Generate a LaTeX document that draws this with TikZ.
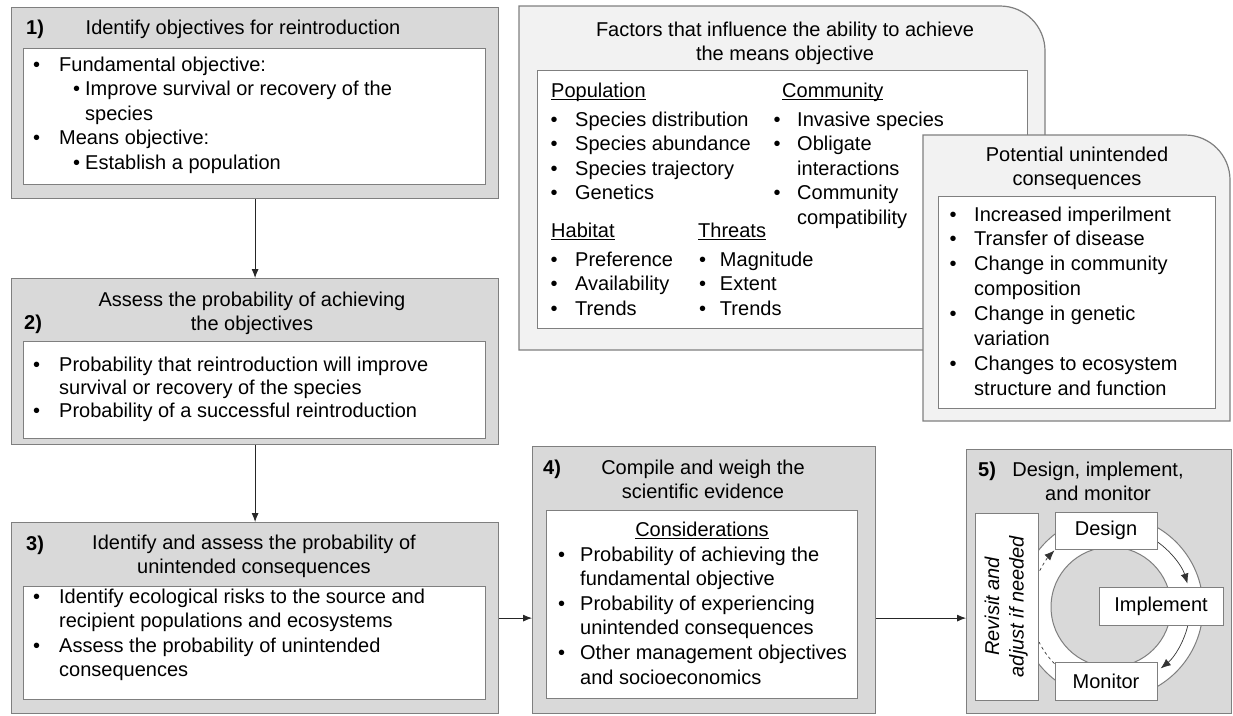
\documentclass[tikz,border=0pt]{standalone}
\usepackage{fontspec}
\setmainfont{Liberation Sans}
\usetikzlibrary{arrows.meta}
\usetikzlibrary{positioning}
\definecolor{stepgrey}{HTML}{D9D9D9}
\definecolor{factgrey}{HTML}{F2F2F2}
\definecolor{edgegrey}{HTML}{7F7F7F}
\newcommand{\itm}[1][26pt]{\makebox[#1][l]{\textbullet}}
\newcommand{\cnt}[1][26pt]{\hspace*{#1}}
\newcommand{\lst}[2][1]{\renewcommand{\arraystretch}{#1}\begin{tabular}[t]{@{}l@{}}#2\end{tabular}}
\newcommand{\ctr}[1]{\begin{tabular}[t]{@{}c@{}}#1\end{tabular}}
\newcommand{\hdline}[1]{\setbox0\hbox{#1}\rlap{\rule[-3pt]{\wd0}{1pt}}\box0}
\tikzset{
  stepbox/.style={draw=edgegrey, line width=1.2pt, fill=stepgrey, anchor=north west},
  innerbox/.style={draw=edgegrey, line width=1pt, fill=white, anchor=north west},
  factbox/.style={draw=edgegrey, line width=1.2pt, fill=factgrey},
  cycbox/.style={draw=edgegrey, line width=1pt, fill=white},
  arr/.style={-{Latex[length=9pt,width=7pt]}, line width=0.8pt, draw=black!85},
  cycarr/.style={-{Latex[length=10pt,width=8pt]}, line width=0.7pt, draw=black!80}
}

\begin{document}
\begin{tikzpicture}[x=1pt, y=-1pt, every node/.style={font=\fontsize{20}{24.6}\selectfont, inner sep=0pt}]
\useasboundingbox (0,0) rectangle (1233,715);

  % Step boxes on the left
  \node[stepbox, minimum width=487pt, minimum height=191pt] (box1) at (11,7) {};
  \node[innerbox, minimum width=462pt, minimum height=136pt] (in1) at (23,48) {};
  \node[anchor=base west, font=\fontsize{20}{24.6}\selectfont\bfseries] (num1) at (26,34) {1)};
  \node[anchor=base] (ttl1) at (243,34) {Identify objectives for reintroduction};
  \node[anchor=base west] (lst1) at (33,71) {\lst{\itm Fundamental objective:\\
    \hspace*{40pt}\makebox[12pt][l]{\textbullet}Improve survival or recovery of the\\
    \hspace*{52pt}species\\
    \itm Means objective:\\
    \hspace*{40pt}\makebox[12pt][l]{\textbullet}Establish a population}};

  \node[stepbox, minimum width=487pt, minimum height=166pt] (box2) at (11,278) {};
  \node[innerbox, minimum width=462pt, minimum height=97pt] (in2) at (23,341) {};
  \node[anchor=base west, font=\fontsize{20}{24.6}\selectfont\bfseries] (num2) at (24,329) {2)};
  \node[anchor=base] (ttl2) at (252,306) {\ctr{Assess the probability of achieving\\the objectives}};
  \node[anchor=base west] (lst2) at (33,371) {\lst[0.94]{\itm Probability that reintroduction will improve\\
    \cnt survival or recovery of the species\\
    \itm Probability of a successful reintroduction}};

  \node[stepbox, minimum width=487pt, minimum height=191pt] (box3) at (11,522) {};
  \node[innerbox, minimum width=462pt, minimum height=113pt] (in3) at (23,586) {};
  \node[anchor=base west, font=\fontsize{20}{24.6}\selectfont\bfseries] (num3) at (26,550) {3)};
  \node[anchor=base] (ttl3) at (254,549) {\ctr{Identify and assess the probability of\\unintended consequences}};
  \node[anchor=base west] (lst3) at (33,603) {\lst{\itm Identify ecological risks to the source and\\
    \cnt recipient populations and ecosystems\\
    \itm Assess the probability of unintended\\
    \cnt consequences}};

  % Evidence and design boxes
  \node[stepbox, minimum width=343pt, minimum height=267pt] (box4) at (532,446) {};
  \node[innerbox, minimum width=311pt, minimum height=188pt] (in4) at (546,510) {};
  \node[anchor=base west, font=\fontsize{20}{24.6}\selectfont\bfseries] (num4) at (543,474) {4)};
  \node[anchor=base] (ttl4) at (703,474) {\ctr{Compile and weigh the\\scientific evidence}};
  \node[anchor=base] (cons) at (702,536) {\hdline{Considerations}};
  \node[anchor=base west] (lst4) at (558,561) {\lst{\itm[22pt]Probability of achieving the\\
    \cnt[22pt]fundamental objective\\
    \itm[22pt]Probability of experiencing\\
    \cnt[22pt]unintended consequences\\
    \itm[22pt]Other management objectives\\
    \cnt[22pt]and socioeconomics}};

  \node[stepbox, minimum width=265pt, minimum height=264pt] (box5) at (966,449) {};
  \node[anchor=base west, font=\fontsize{20}{24.6}\selectfont\bfseries] (num5) at (978,476) {5)};
  \node[anchor=base] (ttl5) at (1098,476) {\ctr{Design, implement,\\and monitor}};

  % cycle
  \coordinate (cyc) at (1111,607);
  \draw[edgegrey, line width=1pt, fill=white] (cyc) circle[radius=92];
  \draw[edgegrey, line width=1pt, fill=stepgrey] (cyc) circle[radius=60];
  \draw[cycarr] ([shift={(-55:80)}]cyc) arc[start angle=-55, end angle=-17, radius=80];
  \draw[cycarr] ([shift={(13:79)}]cyc) arc[start angle=13, end angle=51, radius=79];
  \draw[cycarr, -, dashed] ([shift={(135:80)}]cyc) arc[start angle=135, end angle=154, radius=80];
  \draw[cycarr, dashed] ([shift={(-153:80)}]cyc) arc[start angle=-153, end angle=-135, radius=80];
  \node[cycbox, minimum width=102pt, minimum height=37pt] (design) at (1106,530.5) {Design};
  \node[cycbox, minimum width=124pt, minimum height=38pt] (implement) at (1161,606) {Implement};
  \node[cycbox, minimum width=102pt, minimum height=38pt] (monitor) at (1106,681) {Monitor};
  \node[cycbox, rotate=90, minimum width=187pt, minimum height=63pt,
    font=\fontsize{20}{24.6}\selectfont\itshape] (revisit) at (1006.5,606.5) {\ctr{Revisit and\\adjust if needed}};

  % Factors box
  \draw[factbox] (519,350) -- (519,6) -- (1000,6) arc[start angle=-90, end angle=0, radius=45] -- (1045,350) -- cycle;
  \node[innerbox, minimum width=490pt, minimum height=258pt] (infact) at (537,70) {};
  \node[anchor=base] (ttlf) at (785,36) {\ctr{Factors that influence the ability to achieve\\the means objective}};
  \node[anchor=base west] (hpop) at (551,97) {\hdline{Population}};
  \node[anchor=base west] (hcom) at (782,97) {\hdline{Community}};
  \node[anchor=base west] (lpop) at (550.5,126) {\lst{\itm[24.5pt]Species distribution\\
    \itm[24.5pt]Species abundance\\
    \itm[24.5pt]Species trajectory\\
    \itm[24.5pt]Genetics}};
  \node[anchor=base west] (lcom) at (773.5,126) {\lst{\itm[23.5pt]Invasive species\\
    \itm[23.5pt]Obligate\\
    \cnt[23.5pt]interactions\\
    \itm[23.5pt]Community\\
    \cnt[23.5pt]compatibility}};
  \node[anchor=base west] (hhab) at (551,237) {\hdline{Habitat}};
  \node[anchor=base west] (hthr) at (698,237) {\hdline{Threats}};
  \node[anchor=base west] (lhab) at (550.5,266) {\lst{\itm[24.5pt]Preference\\
    \itm[24.5pt]Availability\\
    \itm[24.5pt]Trends}};
  \node[anchor=base west] (lthr) at (698.8,266) {\lst{\itm[21pt]Magnitude\\
    \itm[21pt]Extent\\
    \itm[21pt]Trends}};

  % Unintended consequences box
  \draw[factbox] (923,421) -- (923,135) -- (1185,135) arc[start angle=-90, end angle=0, radius=45] -- (1230,421) -- cycle;
  \node[innerbox, minimum width=277pt, minimum height=212pt] (inpot) at (938,196) {};
  \node[anchor=base] (ttlp) at (1077,161) {\ctr{Potential unintended\\consequences}};
  \node[anchor=base west] (lpot) at (949.5,221) {\lst[1.016]{\itm[24.5pt]Increased imperilment\\
    \itm[24.5pt]Transfer of disease\\
    \itm[24.5pt]Change in community\\
    \cnt[24.5pt]composition\\
    \itm[24.5pt]Change in genetic\\
    \cnt[24.5pt]variation\\
    \itm[24.5pt]Changes to ecosystem\\
    \cnt[24.5pt]structure and function}};

  % Arrows between steps
  \draw[arr] (box1) -- (box2);
  \draw[arr] (box2) -- (box3);
  \draw[arr] (box3.east) -- (box3.east -| box4.west);
  \draw[arr] (box3.east -| box4.east) -- (box3.east -| box5.west);

\end{tikzpicture}
\end{document}
